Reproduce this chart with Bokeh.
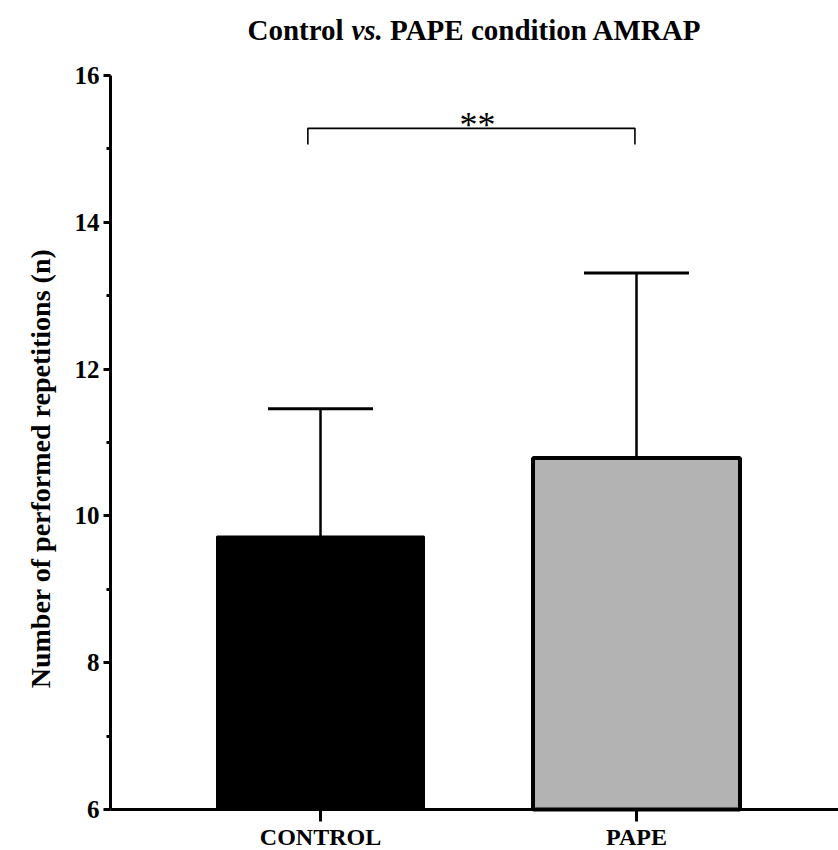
from bokeh.plotting import figure
from bokeh.models import (Range1d, FixedTicker, ColumnDataSource, Whisker, TeeHead, Label)
from bokeh.embed import file_html
from bokeh.resources import INLINE

# ---- data ----
categories = ["CONTROL", "PAPE"]
x_pos = [1, 2]
means = [9.72, 10.79]
sds = [1.74, 2.52]
bar_fill = ["#000000", "#b3b3b3"]
bar_line_w = [2, 4]
y_ticks = [6, 8, 10, 12, 14, 16]
y_minor_ticks = [7, 9, 11, 13, 15]
y_bounds = (6, 16)
sig_text = "**"
sig_y = 15.28
sig_drop = 0.22
title_parts = ["Control", "vs.", "PAPE condition AMRAP"]
y_label = "Number of performed repetitions (n)"

FONT = "Liberation Serif"
W, H = 838, 850
# scale: pixels per data unit, frame covers the whole canvas
PX_X = 316.0
PX_Y = 73.4
AXIS_PX_X = 110   # where the y axis sits
x0 = 1 - 320 / PX_X
x1 = x0 + W / PX_X
y1 = y_bounds[1] + 75 / PX_Y
y0 = y1 - H / PX_Y

def dx(px):
    return x0 + px / PX_X

def dy(py):
    return y1 - py / PX_Y

upper = [m + s for m, s in zip(means, sds)]
src = ColumnDataSource(dict(x=x_pos, top=means, upper=upper, fill=bar_fill, lw=bar_line_w))

p = figure(width=W, height=H, output_backend="svg", toolbar_location=None,
           x_range=Range1d(x0, x1), y_range=Range1d(y0, y1),
           min_border=0)
p.outline_line_color = None
p.xgrid.visible = False
p.ygrid.visible = False
p.background_fill_color = "white"
p.border_fill_color = "white"

p.vbar(x="x", top="top", bottom=y_bounds[0], width=0.655, source=src,
       fill_color="fill", line_color="black", line_width="lw")

wh = Whisker(base="x", lower="top", upper="upper", source=src, dimension="height",
             lower_head=None, upper_head=TeeHead(size=105, line_width=3, line_color="black"),
             line_width=2.5, line_color="black", level="annotation")
p.add_layout(wh)

# significance bracket
bx = [x_pos[0] - 0.04, x_pos[0] - 0.04, x_pos[1] - 0.005, x_pos[1] - 0.005]
by = [sig_y - sig_drop, sig_y, sig_y, sig_y - sig_drop]
p.line(bx, by, line_color="black", line_width=1.6)
p.add_layout(Label(x=dx(477), y=dy(124), text=sig_text,
                   text_align="center", text_baseline="middle",
                   text_font=FONT, text_font_size="36px", text_color="black"))

# title in three pieces (italic "vs.")
tsize = 29
space = 0.25 * tsize
w_control = 3.333 * tsize
w_vs = 1.083 * tsize
start_px = 247
starts = [start_px, start_px + w_control + space, start_px + w_control + space + w_vs + space]
styles = ["bold", "bold italic", "bold"]
for t, sx, st in zip(title_parts, starts, styles):
    p.add_layout(Label(x=dx(sx), y=dy(29), text=t,
                       text_align="left", text_baseline="middle",
                       text_font=FONT, text_font_size=f"{tsize}px",
                       text_font_style=st, text_color="black"))

# y axis title (rotated)
p.add_layout(Label(x=dx(40), y=dy(468), text=y_label, angle=90, angle_units="deg",
                   text_align="center", text_baseline="middle",
                   text_font=FONT, text_font_size="28px", text_font_style="bold",
                   text_color="black"))

# axes
xa = p.xaxis[0]
xa.fixed_location = y_bounds[0]
xa.bounds = (dx(AXIS_PX_X), x1)
xa.ticker = FixedTicker(ticks=x_pos, minor_ticks=[])
xa.major_label_overrides = {x: c for x, c in zip(x_pos, categories)}
xa.axis_line_width = 3
xa.major_tick_line_width = 3
xa.major_tick_out = 12
xa.major_tick_in = 0
xa.minor_tick_line_color = None
xa.major_label_standoff = 2
xa.major_label_text_font = FONT
xa.major_label_text_font_style = "bold"
xa.major_label_text_font_size = "24px"
xa.major_label_text_color = "black"

ya = p.yaxis[0]
ya.fixed_location = dx(AXIS_PX_X)
ya.bounds = y_bounds
ya.ticker = FixedTicker(ticks=y_ticks, minor_ticks=y_minor_ticks)
ya.axis_line_width = 3
ya.major_tick_line_width = 3
ya.major_tick_out = 7
ya.major_tick_in = 0
ya.minor_tick_line_width = 3
ya.minor_tick_out = 4
ya.minor_tick_in = 0
ya.major_label_standoff = 4
ya.major_label_text_font = FONT
ya.major_label_text_font_style = "bold"
ya.major_label_text_font_size = "25px"
ya.major_label_text_color = "black"

open("out.html", "w").write(file_html(p, INLINE))
